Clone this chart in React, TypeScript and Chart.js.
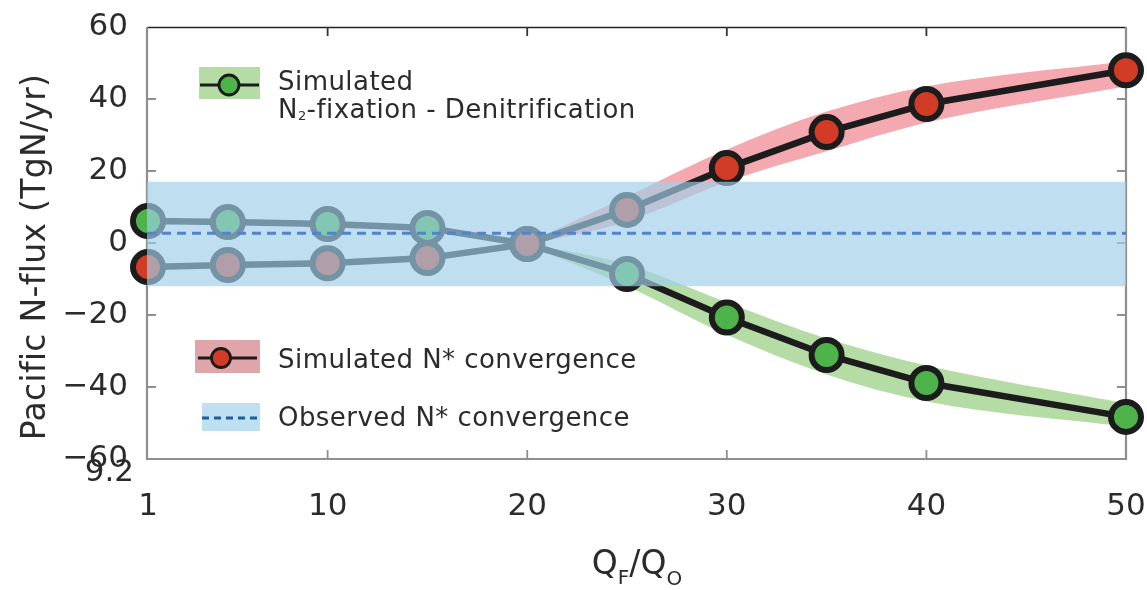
import React, { useEffect, useRef } from 'react';
import { Chart, registerables } from 'chart.js';

Chart.register(...registerables);

// ---- data ----
const X_VALUES = [1, 5, 10, 15, 20, 25, 30, 35, 40, 50];
const N_STAR_CONVERGENCE = [-6.7, -6.1, -5.6, -4.2, -0.3, 9.2, 20.8, 30.8, 38.6, 48.0];
const N2FIX_MINUS_DENIT = [6.1, 5.8, 5.3, 4.2, -0.3, -8.6, -20.7, -31.1, -38.9, -48.3];

const BAND_X = [20, 25, 30, 35, 40, 50];
const RED_UPPER = [0, 13, 26, 36.5, 43.5, 50.5];
const RED_LOWER = [-0.6, 6, 17, 25.5, 33.5, 43.5];
const GREEN_UPPER = [-0.1, -6, -16.5, -26.5, -34, -44.5];
const GREEN_LOWER = [-0.6, -12, -25.5, -36.5, -44, -51];

const OBS_UPPER = 17;
const OBS_LOWER = -12;
const OBS_MEAN = 2.7;

const X_TICKS = [1, 10, 20, 30, 40, 50];
const Y_TICKS = [-60, -40, -20, 0, 20, 40, 60];
const X_MIN = 0.95;
const X_MAX = 50;
const Y_MIN = -60;
const Y_MAX = 60;

const Y_TITLE = 'Pacific N-flux (TgN/yr)';
const LEGEND_GREEN_1 = 'Simulated';
const LEGEND_RED = 'Simulated N* convergence';
const LEGEND_BLUE = 'Observed N* convergence';

const FONT = '"DejaVu Sans", "Liberation Sans", Arial, sans-serif';
const TEXT = '#2b2b2b';

const pts = (xs: number[], ys: number[]) => xs.map((x, i) => ({ x, y: ys[i] }));
const flat = (v: number) => [{ x: X_MIN, y: v }, { x: X_MAX, y: v }];

type Run = { text: string; size: number; dy?: number };
function drawRuns(ctx: CanvasRenderingContext2D, runs: Run[], x: number, y: number) {
  let cx = x;
  for (const r of runs) {
    ctx.font = `${r.size}px ${FONT}`;
    ctx.fillText(r.text, cx, y + (r.dy || 0));
    cx += ctx.measureText(r.text).width;
  }
}
function runsWidth(ctx: CanvasRenderingContext2D, runs: Run[]) {
  let w = 0;
  for (const r of runs) {
    ctx.font = `${r.size}px ${FONT}`;
    w += ctx.measureText(r.text).width;
  }
  return w;
}

const framePlugin = {
  id: 'frame',
  beforeDatasetsDraw(chart: any) {
    const { ctx, chartArea, scales } = chart;
    const { left, right, top, bottom } = chartArea;
    ctx.save();
    ctx.strokeStyle = '#222';
    ctx.lineWidth = 1.3;
    ctx.beginPath();
    ctx.moveTo(left, top + 0.5);
    ctx.lineTo(right, top + 0.5);
    ctx.stroke();
    ctx.strokeStyle = '#8e8e8e';
    ctx.lineWidth = 2.2;
    ctx.beginPath();
    ctx.moveTo(left, top);
    ctx.lineTo(left, bottom);
    ctx.lineTo(right, bottom);
    ctx.lineTo(right, top);
    ctx.stroke();
    const tl = 9;
    ctx.lineWidth = 1.8;
    for (const v of Y_TICKS) {
      if (v === Y_MIN || v === Y_MAX) continue;
      const py = scales.y.getPixelForValue(v);
      ctx.beginPath();
      ctx.moveTo(left, py);
      ctx.lineTo(left + tl, py);
      ctx.moveTo(right, py);
      ctx.lineTo(right - tl, py);
      ctx.stroke();
    }
    for (const v of X_TICKS) {
      if (v === 1 || v === X_MAX) continue;
      const px = scales.x.getPixelForValue(v);
      ctx.strokeStyle = '#8e8e8e';
      ctx.beginPath();
      ctx.moveTo(px, bottom);
      ctx.lineTo(px, bottom - tl);
      ctx.stroke();
      ctx.strokeStyle = '#333';
      ctx.beginPath();
      ctx.moveTo(px, top);
      ctx.lineTo(px, top + tl);
      ctx.stroke();
    }
    ctx.restore();
  },
};

const textPlugin = {
  id: 'texts',
  afterDraw(chart: any) {
    const { ctx } = chart;
    ctx.save();
    ctx.fillStyle = TEXT;
    ctx.textBaseline = 'alphabetic';
    ctx.textAlign = 'left';

    // y title
    ctx.save();
    ctx.translate(45, 257);
    ctx.rotate(-Math.PI / 2);
    ctx.textAlign = 'center';
    ctx.font = `33px ${FONT}`;
    (ctx as any).letterSpacing = '0.3px';
    ctx.fillText(Y_TITLE, 0, 0);
    ctx.restore();

    // stray label under -60
    ctx.textAlign = 'right';
    ctx.font = `31px ${FONT}`;
    ctx.fillText('9.2', 134, 481);
    ctx.textAlign = 'left';

    // x title Q_F / Q_O
    const xt: Run[] = [
      { text: 'Q', size: 33 },
      { text: 'F', size: 20, dy: 10 },
      { text: '/', size: 33 },
      { text: 'Q', size: 33 },
      { text: 'O', size: 20, dy: 11 },
    ];
    const w = runsWidth(ctx, xt);
    drawRuns(ctx, xt, 637 - w / 2, 574);

    (ctx as any).letterSpacing = '0.45px';

    // legend 1 (green)
    ctx.fillStyle = '#b4dca4';
    ctx.fillRect(199, 67, 61, 32);
    ctx.strokeStyle = '#1a1a1a';
    ctx.lineWidth = 3;
    ctx.beginPath();
    ctx.moveTo(200, 85);
    ctx.lineTo(259, 85);
    ctx.stroke();
    ctx.beginPath();
    ctx.arc(229, 85, 10, 0, Math.PI * 2);
    ctx.fillStyle = '#4db34a';
    ctx.fill();
    ctx.lineWidth = 2.8;
    ctx.stroke();
    ctx.fillStyle = TEXT;
    ctx.font = `26px ${FONT}`;
    ctx.fillText(LEGEND_GREEN_1, 278, 90);
    drawRuns(ctx, [
      { text: 'N', size: 26 },
      { text: '2', size: 13, dy: 2 },
      { text: '-fixation - Denitrification', size: 26 },
    ], 278, 118);

    // legend 2 (red)
    ctx.fillStyle = '#e0a5aa';
    ctx.fillRect(195, 340, 65, 33);
    ctx.strokeStyle = '#1a1a1a';
    ctx.lineWidth = 3;
    ctx.beginPath();
    ctx.moveTo(198, 358);
    ctx.lineTo(257, 358);
    ctx.stroke();
    ctx.beginPath();
    ctx.arc(221, 358, 9.5, 0, Math.PI * 2);
    ctx.fillStyle = '#d23b25';
    ctx.fill();
    ctx.lineWidth = 2.8;
    ctx.stroke();
    ctx.fillStyle = TEXT;
    ctx.font = `26px ${FONT}`;
    ctx.fillText(LEGEND_RED, 278, 368);

    // legend 3 (blue)
    ctx.fillStyle = '#bfe0f1';
    ctx.fillRect(202, 403, 58, 28);
    ctx.strokeStyle = '#1d5c9e';
    ctx.lineWidth = 3;
    ctx.setLineDash([7, 5]);
    ctx.beginPath();
    ctx.moveTo(202, 418);
    ctx.lineTo(259, 418);
    ctx.stroke();
    ctx.setLineDash([]);
    ctx.fillStyle = TEXT;
    ctx.fillText(LEGEND_BLUE, 278, 426);

    ctx.restore();
  },
};

export default function App() {
  const ref = useRef<HTMLCanvasElement | null>(null);

  useEffect(() => {
    if (!ref.current) return;
    const bandBase = {
      borderWidth: 0,
      borderColor: 'transparent',
      pointRadius: 0,
      tension: 0.4,
      cubicInterpolationMode: 'monotone' as const,
      order: 10,
    };
    const lineBase = {
      borderColor: '#1c1c1c',
      borderWidth: 6.5,
      pointRadius: 15,
      pointBorderWidth: 6,
      pointBorderColor: '#1c1c1c',
      fill: false,
      tension: 0,
      clip: false as const,
      order: 5,
      borderJoinStyle: 'round' as const,
    };
    const chart = new Chart(ref.current, {
      type: 'line',
      data: {
        datasets: [
          { ...bandBase, label: 'red upper', data: pts(BAND_X, RED_UPPER), fill: '+1', backgroundColor: '#f4a9b1' },
          { ...bandBase, label: 'red lower', data: pts(BAND_X, RED_LOWER), fill: false },
          { ...bandBase, label: 'green upper', data: pts(BAND_X, GREEN_UPPER), fill: '+1', backgroundColor: '#b6dca6' },
          { ...bandBase, label: 'green lower', data: pts(BAND_X, GREEN_LOWER), fill: false },
          { ...lineBase, label: 'Simulated N* convergence', data: pts(X_VALUES, N_STAR_CONVERGENCE), pointBackgroundColor: '#d23b25' },
          { ...lineBase, label: 'Simulated N2-fixation - Denitrification', data: pts(X_VALUES, N2FIX_MINUS_DENIT), pointBackgroundColor: '#4db34a' },
          { label: 'obs upper', data: flat(OBS_UPPER), borderWidth: 0, borderColor: 'transparent', pointRadius: 0, fill: '+1', backgroundColor: 'rgba(160,207,232,0.67)', order: 1 },
          { label: 'obs lower', data: flat(OBS_LOWER), borderWidth: 0, borderColor: 'transparent', pointRadius: 0, fill: false, order: 1 },
          { label: 'Observed N* convergence', data: flat(OBS_MEAN), borderWidth: 3, borderColor: '#5283cc', borderDash: [9, 6], pointRadius: 0, fill: false, order: 0 },
        ] as any,
      },
      options: {
        animation: false,
        responsive: false,
        layout: { padding: { left: 0, right: 17, top: 27, bottom: 0 } },
        plugins: {
          legend: { display: false },
          tooltip: { enabled: false },
          title: { display: false },
        },
        scales: {
          x: {
            type: 'linear',
            min: X_MIN,
            max: X_MAX,
            afterBuildTicks: (s: any) => { s.ticks = X_TICKS.map((value) => ({ value })); },
            afterFit: (s: any) => { s.height = 131; s.paddingLeft = 0; s.paddingRight = 0; },
            grid: { display: false, drawTicks: false },
            border: { display: false },
            ticks: {
              padding: 29,
              color: TEXT,
              autoSkip: false,
              maxRotation: 0,
              font: { family: FONT, size: 31 },
              callback: (v: any) => String(v),
            },
          },
          y: {
            type: 'linear',
            min: Y_MIN,
            max: Y_MAX,
            afterBuildTicks: (s: any) => { s.ticks = Y_TICKS.map((value) => ({ value })); },
            afterFit: (s: any) => { s.width = 147; s.paddingTop = 0; s.paddingBottom = 0; },
            grid: { display: false, drawTicks: false },
            border: { display: false },
            ticks: {
              padding: 19,
              color: TEXT,
              font: { family: FONT, size: 31 },
              callback: (v: any) => (v < 0 ? '\u2212' + Math.abs(v) : String(v)),
            },
          },
        },
      } as any,
      plugins: [framePlugin, textPlugin],
    });
    return () => chart.destroy();
  }, []);

  return (
    <canvas
      ref={ref}
      width={1147}
      height={590}
      style={{ position: 'fixed', left: 0, top: 0, width: 1147, height: 590, background: '#fff' }}
    />
  );
}
